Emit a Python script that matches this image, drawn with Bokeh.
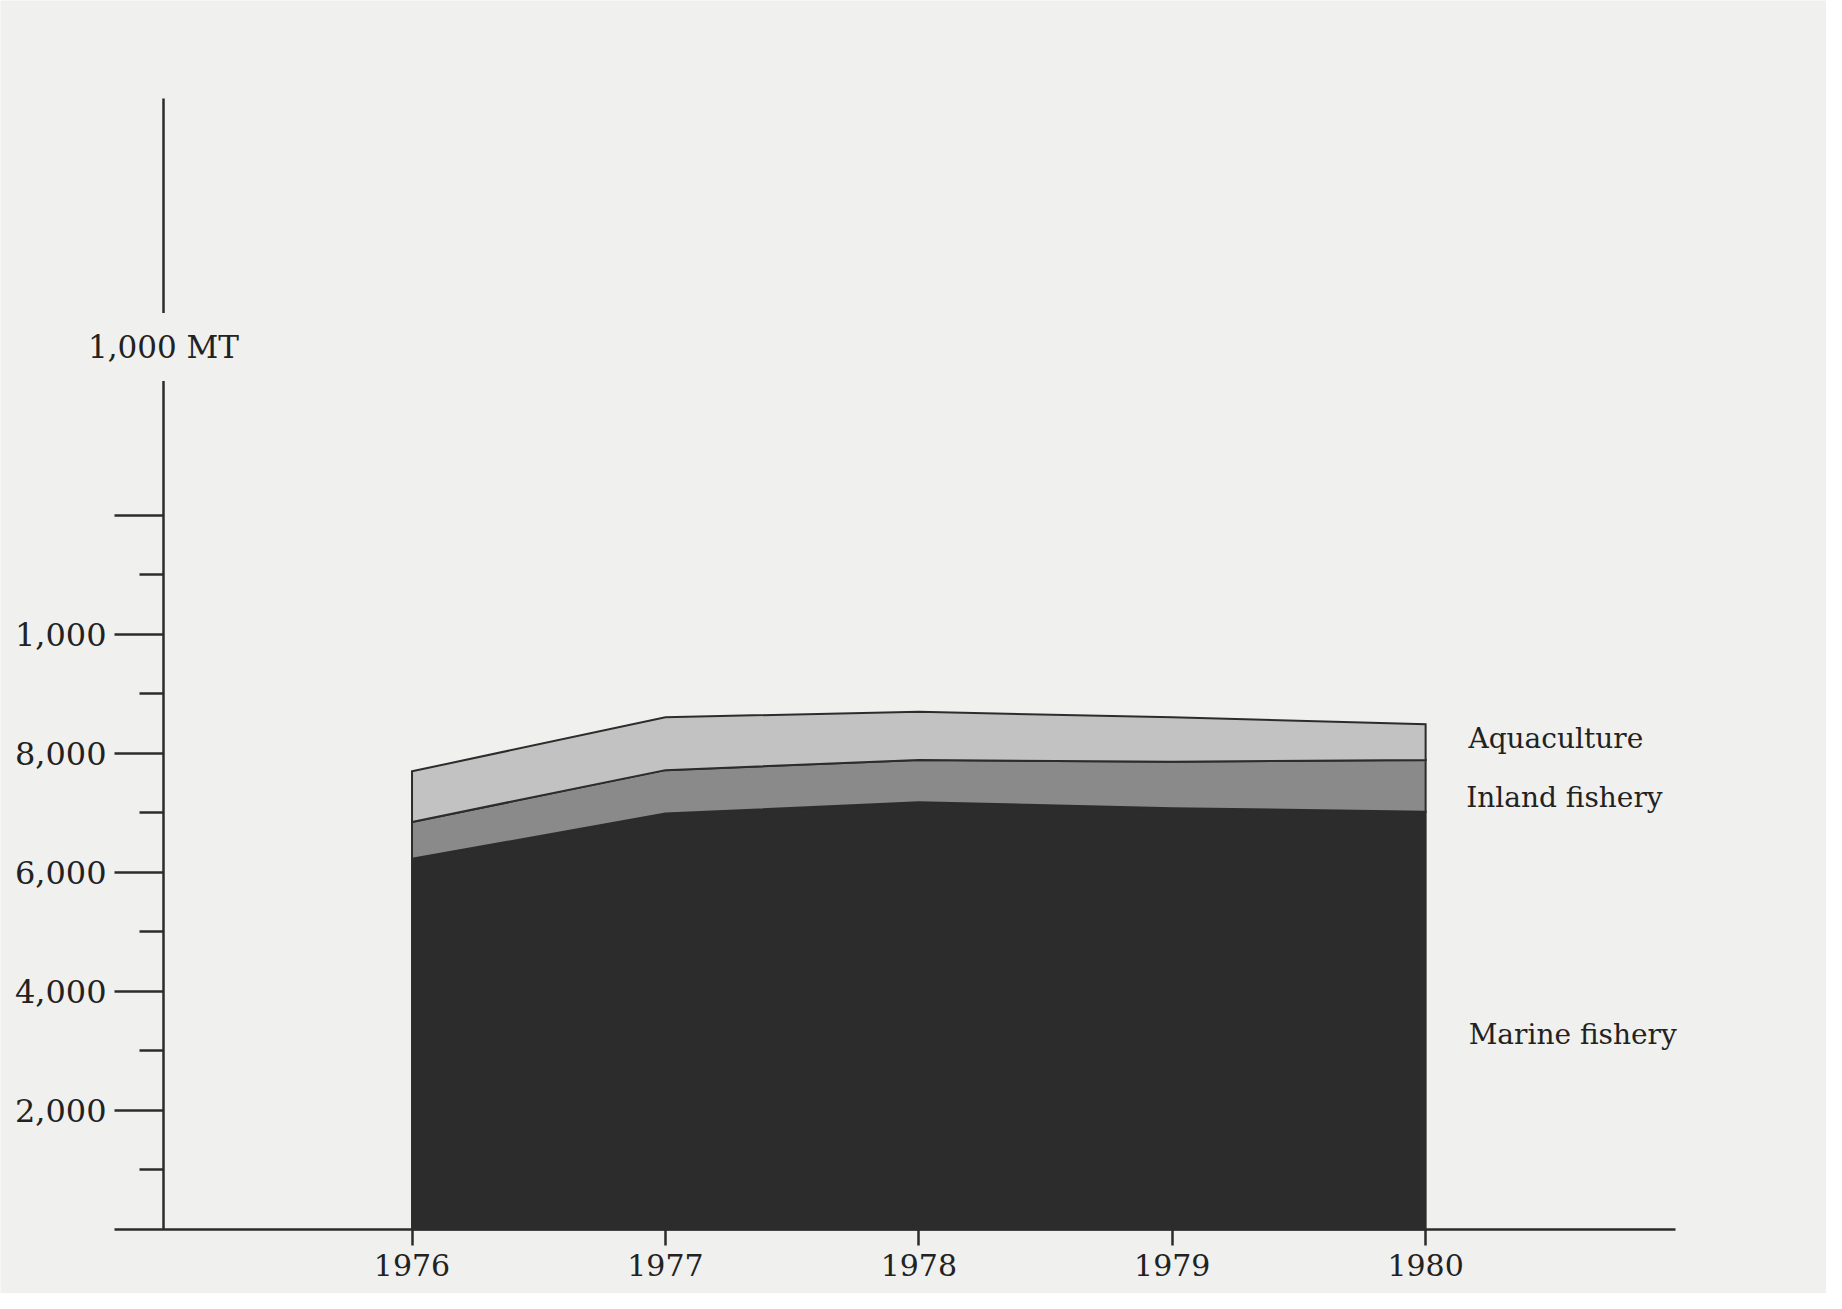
import numpy as np
from bokeh.plotting import figure
from bokeh.models import Range1d, LinearAxis, FixedTicker, Label, ColumnDataSource
from bokeh.embed import file_html
from bokeh.resources import INLINE
from bokeh.core.properties import value

# ---- data (1,000 metric tons) ----
years = [1976, 1977, 1978, 1979, 1980]
marine = [6230, 6990, 7180, 7080, 7020]
inland = [620, 730, 710, 780, 870]
aquaculture = [850, 890, 810, 750, 600]
series_names = ["Marine fishery", "Inland fishery", "Aquaculture"]
y_tick_values = [2000, 4000, 6000, 8000, 10000, 12000]
y_tick_labels = ["2,000", "4,000", "6,000", "8,000", "1,000", ""]
y_minor_ticks = [1000, 3000, 5000, 7000, 9000, 11000]
unit_label = "1,000 MT"

# ---- styling ----
BG = "#f0f0ee"
INK = "#2c2c2c"
FILLS = ["#2c2c2c", "#8a8a8a", "#c2c2c2"]
SERIF = "DejaVu Serif"

# frame covers the whole figure; axes are pinned at data locations
X0, X1 = 1974.376, 1981.582
Y0, Y1 = -1076, 20655
YAXIS_X = 1975.0193
XAXIS_BOUNDS = (1974.826, 1980.986)
YAXIS_BOUNDS = (0, 19000)

p = figure(width=1826, height=1293,
           x_range=Range1d(X0, X1), y_range=Range1d(Y0, Y1),
           output_backend="svg", toolbar_location=None,
           x_axis_location=None, y_axis_location=None,
           min_border=0,
           background_fill_color=BG, border_fill_color=BG,
           outline_line_color=None)
p.grid.visible = False

# stacked areas
bottoms = np.zeros(len(years))
for vals, col in zip([marine, inland, aquaculture], FILLS):
    tops = bottoms + np.array(vals, dtype=float)
    xs = list(years) + list(years[::-1])
    ys = list(tops) + list(bottoms[::-1])
    p.patch(xs, ys, fill_color=col, line_color=INK, line_width=2, line_join="miter")
    bottoms = tops

# series labels at the right
lab_src = ColumnDataSource(dict(
    x=[1980.17, 1980.16, 1980.169],
    y=[3280, 7260, 8250],
    t=series_names,
))
p.text(x="x", y="y", text="t", source=lab_src, text_font=value(SERIF),
       text_font_size="28px", text_color="#222222",
       text_align="left", text_baseline="middle")

# x axis
xaxis = LinearAxis(ticker=FixedTicker(ticks=years, minor_ticks=[]),
                   bounds=XAXIS_BOUNDS, fixed_location=0)
xaxis.axis_line_color = INK
xaxis.axis_line_width = 2.5
xaxis.major_tick_line_color = INK
xaxis.major_tick_line_width = 2.5
xaxis.major_tick_in = 0
xaxis.major_tick_out = 16
xaxis.minor_tick_line_color = None
xaxis.major_label_standoff = 9
xaxis.major_label_text_font = SERIF
xaxis.major_label_text_font_size = "30px"
xaxis.major_label_text_color = "#222222"
p.add_layout(xaxis, "below")

# y axis
yaxis = LinearAxis(ticker=FixedTicker(ticks=y_tick_values, minor_ticks=y_minor_ticks),
                   bounds=YAXIS_BOUNDS, fixed_location=YAXIS_X)
yaxis.major_label_overrides = dict(zip(y_tick_values, y_tick_labels))
yaxis.axis_line_color = INK
yaxis.axis_line_width = 2.5
yaxis.major_tick_line_color = INK
yaxis.major_tick_line_width = 2.5
yaxis.major_tick_in = 0
yaxis.major_tick_out = 49
yaxis.minor_tick_line_color = INK
yaxis.minor_tick_line_width = 2.5
yaxis.minor_tick_in = 0
yaxis.minor_tick_out = 24
yaxis.major_label_standoff = 8
yaxis.major_label_text_font = SERIF
yaxis.major_label_text_font_size = "32px"
yaxis.major_label_text_color = "#222222"
p.add_layout(yaxis, "left")

# unit label interrupting the y axis line
unit = Label(x=YAXIS_X, y=14830, text=unit_label, text_align="center", text_baseline="middle",
             text_font=SERIF, text_font_size="31px", text_color="#222222",
             background_fill_color=BG, padding=16)
p.add_layout(unit)

open("out.html", "w").write(file_html(p, INLINE))
